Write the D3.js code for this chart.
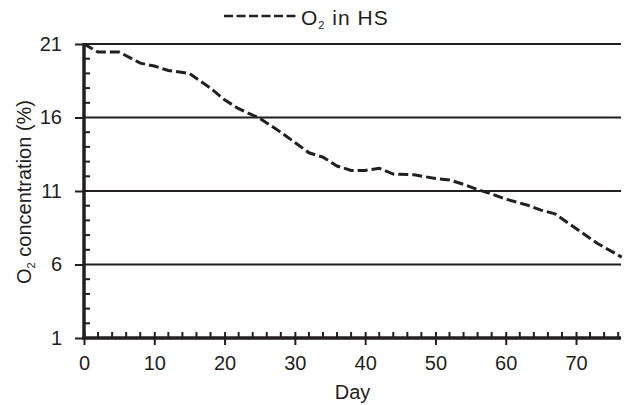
<!DOCTYPE html>
<html>
<head>
<meta charset="utf-8">
<script src="https://cdn.jsdelivr.net/npm/d3@7"></script>
<style>
  body { margin: 0; background: #fff; }
  svg { display: block; font-family: "Liberation Sans", Arial, sans-serif; }
</style>
</head>
<body>
<div id="chart"></div>
<script>
// O2 in headspace
const days = [0, 2, 5, 8, 10, 12, 15, 18, 20, 22, 25, 28, 30, 32, 34, 36, 38, 40, 42, 44, 47, 50, 52, 54, 56, 58, 60, 63, 65, 67, 70, 73, 76.5]
const o2 = [21, 20.45, 20.45, 19.7, 19.5, 19.2, 19.0, 18.0, 17.2, 16.6, 15.95, 15.0, 14.3, 13.6, 13.3, 12.7, 12.4, 12.4, 12.55, 12.15, 12.1, 11.85, 11.75, 11.45, 11.1, 10.8, 10.45, 10.05, 9.7, 9.45, 8.45, 7.45, 6.5]
const yTicks = [1, 6, 11, 16, 21]
const xTicks = [0, 10, 20, 30, 40, 50, 60, 70]
const seriesName = "in HS"

const W = 625, H = 405
const margin = { top: 44, right: 4, bottom: 67, left: 84 }
const width = W - margin.left - margin.right
const height = H - margin.top - margin.bottom
const ink = "#231f20"

const svg = d3.select("#chart").append("svg")
  .attr("width", W)
  .attr("height", H)

const g = svg.append("g")
  .attr("transform", "translate(" + margin.left + "," + margin.top + ")")

const x = d3.scaleLinear().domain([0, 76.4]).range([0, width])
const y = d3.scaleLinear().domain([1, 21]).range([height, 0])

// horizontal grid lines at the major y ticks (not at the bottom one)
g.append("g")
  .selectAll("line")
  .data(yTicks.filter(d => d > 1))
  .join("line")
  .attr("x1", 0)
  .attr("x2", width)
  .attr("y1", d => y(d))
  .attr("y2", d => y(d))
  .attr("stroke", ink)
  .attr("stroke-width", 2)

// y minor ticks, every 1 unit, pointing inward
g.append("g")
  .selectAll("line")
  .data(d3.range(2, 21).filter(d => (d - 1) % 5 !== 0))
  .join("line")
  .attr("x1", 0)
  .attr("x2", 6)
  .attr("y1", d => y(d))
  .attr("y2", d => y(d))
  .attr("stroke", ink)
  .attr("stroke-width", 2)

// x minor ticks, every 2 days, pointing up
g.append("g")
  .selectAll("line")
  .data(d3.range(2, 77, 2).filter(d => d % 10 !== 0))
  .join("line")
  .attr("x1", d => x(d))
  .attr("x2", d => x(d))
  .attr("y1", height)
  .attr("y2", height - 6)
  .attr("stroke", ink)
  .attr("stroke-width", 2)

// y axis
const yAxis = g.append("g")
  .call(d3.axisLeft(y).tickValues(yTicks).tickSize(9).tickPadding(13).tickFormat(d3.format("d")))
yAxis.select(".domain").remove()
yAxis.selectAll(".tick line").attr("stroke", ink).attr("stroke-width", 2)
yAxis.selectAll(".tick text")
  .attr("fill", ink)
  .style("font-size", "20px")
  .style("font-family", "'Liberation Sans', Arial, sans-serif")

// x axis: major ticks cross the axis line
const xAxis = g.append("g")
  .attr("transform", "translate(0," + height + ")")
  .call(d3.axisBottom(x).tickValues(xTicks).tickSizeInner(7).tickSizeOuter(0).tickPadding(11).tickFormat(d3.format("d")))
xAxis.select(".domain").remove()
xAxis.selectAll(".tick line")
  .attr("y1", -6)
  .attr("stroke", ink)
  .attr("stroke-width", 2)
xAxis.selectAll(".tick text")
  .attr("fill", ink)
  .style("font-size", "20px")
  .style("font-family", "'Liberation Sans', Arial, sans-serif")

// heavy axis lines
g.append("line")
  .attr("x1", 0).attr("x2", 0)
  .attr("y1", y(21) - 1).attr("y2", height + 1.5)
  .attr("stroke", ink)
  .attr("stroke-width", 3.5)
g.append("line")
  .attr("x1", -1.5).attr("x2", width)
  .attr("y1", height).attr("y2", height)
  .attr("stroke", ink)
  .attr("stroke-width", 3.5)

// the dashed series
const line = d3.line()
  .x((d, i) => x(days[i]))
  .y(d => y(d))

g.append("path")
  .datum(o2)
  .attr("d", line)
  .attr("fill", "none")
  .attr("stroke", ink)
  .attr("stroke-width", 3)
  .attr("stroke-dasharray", "10,4")

// axis titles
svg.append("text")
  .attr("x", margin.left + width / 2)
  .attr("y", 399)
  .attr("text-anchor", "middle")
  .attr("fill", ink)
  .style("font-size", "20px")
  .text("Day")

const yTitle = svg.append("text")
  .attr("transform", "translate(31,192) rotate(-90)")
  .attr("text-anchor", "middle")
  .attr("fill", ink)
  .style("font-size", "20px")
yTitle.append("tspan").text("O")
yTitle.append("tspan").attr("dy", 4).style("font-size", "11px").text("2")
yTitle.append("tspan").attr("dy", -4).text(" concentration (%)")

// legend
const legend = svg.append("g")
legend.append("line")
  .attr("x1", 224).attr("x2", 297)
  .attr("y1", 16).attr("y2", 16)
  .attr("stroke", ink)
  .attr("stroke-width", 2.5)
  .attr("stroke-dasharray", "9,3.5")
const legendText = legend.append("text")
  .attr("x", 301)
  .attr("y", 24.5)
  .attr("fill", ink)
  .style("font-size", "21px")
  .style("letter-spacing", "1px")
legendText.append("tspan").text("O")
legendText.append("tspan").attr("dy", 4).style("font-size", "11px").text("2")
legendText.append("tspan").attr("dy", -4).text(" " + seriesName)
</script>
</body>
</html>
